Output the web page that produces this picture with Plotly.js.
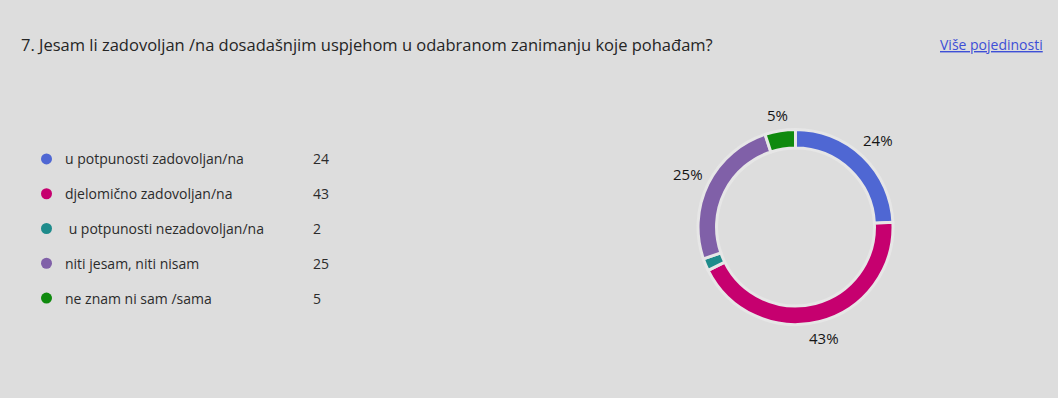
<!DOCTYPE html>
<html>
<head>
<meta charset="utf-8">
<script src="https://cdn.plot.ly/plotly-3.0.1.min.js"></script>
<style>
html,body{margin:0;padding:0;background:#dddddd;}
#chart{width:1058px;height:398px;}
</style>
</head>
<body>
<div id="chart"></div>
<script>
const titleText = '7. Jesam li zadovoljan /na dosadašnjim uspjehom u odabranom zanimanju koje pohađam?';
const linkText = 'Više pojedinosti';
const categories = ['u potpunosti zadovoljan/na', 'djelomično zadovoljan/na', ' u potpunosti nezadovoljan/na', 'niti jesam, niti nisam', 'ne znam ni sam /sama'];
const counts = [24, 43, 2, 25, 5];
const colors = ['#4f67d3', '#c6006f', '#1e8b8b', '#8060a8', '#0f8a0e'];

const FONT = 'Open Sans, Noto Sans, sans-serif';
const bg = '#dddddd';
const W = 1058, H = 398;
const disp = s => s.replace(/^ +/, m => '\u00a0'.repeat(m.length));

const total = counts.reduce((a, b) => a + b, 0);

// pie geometry (pixels)
const cx = 795.5, cy = 227, R = 97.5;

const pie = {
  type: 'pie',
  values: counts,
  labels: categories,
  marker: {colors: colors, line: {color: '#e6e6e6', width: 3}},
  hole: 0.81,
  sort: false,
  direction: 'clockwise',
  rotation: 0,
  textinfo: 'none',
  textposition: 'none',
  domain: {x: [(cx - R) / W, (cx + R) / W], y: [(H - cy - R) / H, (H - cy + R) / H]},
  showlegend: false,
  hoverinfo: 'label+value+percent'
};

const dots = {
  type: 'scatter',
  mode: 'markers',
  x: categories.map(() => 46.5),
  y: categories,
  marker: {color: colors, size: 11},
  xaxis: 'x', yaxis: 'y',
  showlegend: false,
  hoverinfo: 'skip',
  cliponaxis: false
};

const annotations = [];
categories.forEach((c, i) => {
  annotations.push({xref: 'x', yref: 'y', x: 63, y: c, text: disp(c), showarrow: false,
    xanchor: 'left', yanchor: 'middle', font: {family: FONT, size: 14, color: '#2b2b2b'}});
  annotations.push({xref: 'x', yref: 'y', x: 311, y: c, text: String(counts[i]), showarrow: false,
    xanchor: 'left', yanchor: 'middle', font: {family: FONT, size: 14, color: '#2b2b2b'}});
});

// percentage labels outside the ring, at each slice's mid angle
let cum = 0;
counts.forEach((v, i) => {
  const frac = v / total;
  const mid = (cum + frac / 2) * 2 * Math.PI;
  cum += frac;
  if (frac < 0.03) return;
  const txt = Math.round(frac * 100) + '%';
  const halfW = ((txt.length - 1) * 8.6 + 12.6) / 2, halfH = 8;
  const s = Math.sin(mid), co = Math.cos(mid);
  const r = R + 6 + halfW * Math.abs(s) + halfH * Math.abs(co);
  const px = cx + r * s, py = cy - r * co;
  annotations.push({xref: 'paper', yref: 'paper', x: px / W, y: (H - py) / H, text: txt,
    showarrow: false, xanchor: 'center', yanchor: 'middle',
    font: {family: FONT, size: 15, color: '#151515'}});
});

annotations.push({xref: 'paper', yref: 'paper', x: 19 / W, y: (H - 44) / H, text: titleText,
  showarrow: false, xanchor: 'left', yanchor: 'middle', font: {family: FONT, size: 16.5, color: '#252525'}});
annotations.push({xref: 'paper', yref: 'paper', x: 1045 / W, y: (H - 44) / H,
  text: '<span style="text-decoration:underline">' + linkText + '</span>',
  showarrow: false, xanchor: 'right', yanchor: 'middle', font: {family: FONT, size: 14, color: '#3d4fd6'}});

const layout = {
  width: W, height: H,
  margin: {l: 0, r: 0, t: 0, b: 0},
  paper_bgcolor: bg, plot_bgcolor: bg,
  xaxis: {range: [0, W], domain: [0, 1], visible: false, fixedrange: true},
  yaxis: {type: 'category', categoryarray: categories, categoryorder: 'array', range: [4.5, -0.5],
    domain: [(H - 315.4) / H, (H - 141.6) / H], visible: false, fixedrange: true},
  annotations: annotations,
  showlegend: false
};

Plotly.newPlot('chart', [dots, pie], layout, {displayModeBar: false, staticPlot: true});
</script>
</body>
</html>
